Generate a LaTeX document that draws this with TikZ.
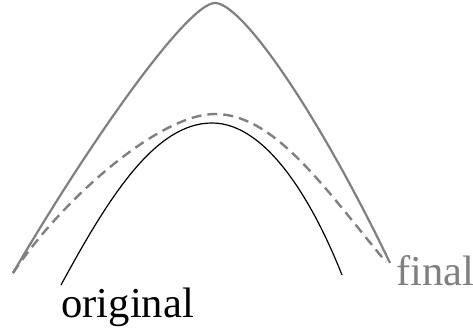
\documentclass[tikz,border=0pt]{standalone}
\usepackage{fontspec}
\setmainfont{Liberation Serif}
\usepackage{tikz}
\tikzset{
  orig/.style={draw=black, line width=0.6pt},
  fin/.style={draw=gray, line width=1.1pt},
  mid/.style={draw=gray, line width=1.2pt, dash pattern=on 5pt off 3pt},
  lbl/.style={inner sep=0pt, anchor=base west, font=\fontsize{21.3}{24}\selectfont}
}
\begin{document}
\begin{tikzpicture}[x=0.5pt, y=-0.5pt]
  \useasboundingbox (0,0) rectangle (473,331);
  % final curve
  \draw[fin] (13,273) .. controls (92,138) and (188,3) .. (215,3)
    .. controls (242,3) and (318,113) .. (390,263);
  % intermediate curve
  \draw[mid] (13,273) .. controls (63,198) and (160,114) .. (215,114)
    .. controls (275,114) and (326,190) .. (386,262);
  % original curve
  \draw[orig] (61,285) .. controls (108.5,197.5) and (155,123) .. (212,123)
    .. controls (267,123) and (313.5,203) .. (342,275);
  \node[lbl] (o) at (61,318) {original};
  \node[lbl, text=gray] (f) at (396,286) {final};
\end{tikzpicture}
\end{document}
